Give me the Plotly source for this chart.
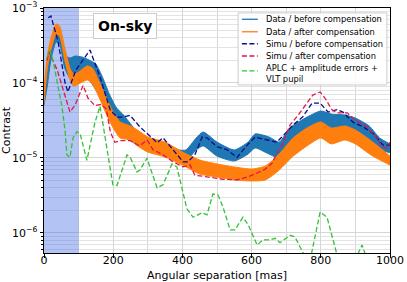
import plotly.graph_objects as go

# ---- data (angular separation in mas, contrast) ----
sep_before = [0, 10, 20, 35, 45, 60, 75, 90, 110, 130, 150, 170, 190, 210, 230, 260, 280, 300, 350, 390,
              410, 440, 460, 500, 550, 590, 610, 650, 680, 710, 750, 800, 830, 870, 900, 940, 970, 1000]
before_upper = [6.92e-5, 1.74e-4, 3.21e-4, 4.79e-4, 4.50e-4, 2.36e-4, 2.15e-4, 2.29e-4, 2.22e-4, 2.03e-4,
                1.79e-4, 1.17e-4, 6.92e-5, 4.64e-5, 3.74e-5, 2.51e-5, 2.09e-5, 1.85e-5, 1.58e-5, 1.28e-5,
                1.28e-5, 1.85e-5, 2.22e-5, 1.63e-5, 1.28e-5, 1.63e-5, 2.09e-5, 1.91e-5, 1.63e-5, 2.51e-5,
                3.31e-5, 4.23e-5, 3.86e-5, 3.74e-5, 3.41e-5, 2.67e-5, 1.85e-5, 1.54e-5]
before_lower = [5.09e-5, 9.40e-5, 2.03e-4, 3.52e-4, 3.31e-4, 1.58e-4, 1.17e-4, 1.17e-4, 1.17e-4, 1.10e-4,
                8.06e-5, 5.93e-5, 4.11e-5, 2.75e-5, 2.03e-5, 1.58e-5, 1.40e-5, 1.28e-5, 1.10e-5, 9.40e-6,
                9.12e-6, 1.28e-5, 1.45e-5, 1.06e-5, 9.12e-6, 1.13e-5, 1.36e-5, 1.13e-5, 1.00e-5, 1.36e-5,
                1.97e-5, 2.84e-5, 2.51e-5, 2.59e-5, 2.36e-5, 1.79e-5, 1.32e-5, 1.17e-5]

sep_after = [0, 10, 20, 35, 45, 60, 75, 85, 100, 125, 140, 160, 180, 200, 220, 250, 270, 300, 350, 400,
             450, 500, 550, 600, 640, 680, 720, 760, 800, 830, 870, 900, 950, 1000]
after_upper = [8.58e-5, 2.36e-4, 3.98e-4, 6.12e-4, 5.75e-4, 2.93e-4, 1.58e-4, 1.32e-4, 1.40e-4, 1.69e-4,
               1.58e-4, 1.03e-4, 6.31e-5, 4.11e-5, 3.02e-5, 2.67e-5, 2.36e-5, 1.91e-5, 1.63e-5, 1.20e-5,
               9.40e-6, 8.32e-6, 7.59e-6, 7.13e-6, 7.82e-6, 1.13e-5, 1.85e-5, 2.51e-5, 3.02e-5, 2.51e-5,
               2.67e-5, 2.36e-5, 1.63e-5, 1.06e-5]
after_lower = [5.41e-5, 1.58e-4, 2.75e-4, 4.50e-4, 4.23e-4, 2.03e-4, 1.10e-4, 9.12e-5, 9.70e-5, 1.10e-4,
               9.70e-5, 6.31e-5, 3.86e-5, 2.51e-5, 1.85e-5, 1.74e-5, 1.45e-5, 1.20e-5, 1.03e-5, 8.06e-6,
               6.12e-6, 5.58e-6, 5.09e-6, 4.94e-6, 5.09e-6, 6.92e-6, 1.06e-5, 1.45e-5, 1.85e-5, 1.54e-5,
               1.74e-5, 1.54e-5, 1.06e-5, 8.06e-6]

sep_simu_before = [12, 20, 40, 61, 69, 92, 133, 162, 191, 211, 228, 249, 277, 298, 327, 344, 373, 402, 416, 436,
                   457, 471, 500, 529, 558, 587, 610, 647, 673, 702, 720, 748, 775, 798, 821, 847, 864, 893,
                   922, 951, 980, 1000]
simu_before = [7.4e-4, 7.8e-4, 3.7e-4, 1.0e-4, 7.6e-5, 1.48e-4, 2.75e-4, 1.2e-4, 4.4e-5, 3.5e-5,
               3.5e-5, 3.7e-5, 2.6e-5, 2.1e-5, 1.6e-5, 1.86e-5, 1.29e-5, 8.9e-6, 8.9e-6, 1.1e-5,
               1.9e-5, 1.86e-5, 1.41e-5, 1.29e-5, 1.02e-5, 1.48e-5, 1.9e-5, 1.74e-5, 1.62e-5, 2.24e-5,
               2.75e-5, 3.55e-5, 5.4e-5, 5.4e-5, 4.1e-5, 4.4e-5, 4.1e-5, 3.0e-5, 2.6e-5, 2.14e-5,
               1.48e-5, 1.48e-5]

sep_simu_after = [9, 14, 38, 61, 75, 90, 113, 127, 147, 165, 180, 192, 205, 220, 249, 277, 298, 315, 344, 373,
                  402, 422, 436, 471, 518, 558, 590, 616, 639, 659, 673, 688, 711, 731, 760, 777, 798, 812,
                  832, 847, 876, 899, 933, 957, 977, 991, 1000]
simu_after = [2.0e-4, 2.6e-4, 1.5e-4, 6.5e-5, 4.1e-5, 5.1e-5, 9.3e-5, 6.3e-5, 5.0e-5, 5.2e-5,
              4.5e-5, 2.2e-5, 1.62e-5, 1.7e-5, 1.7e-5, 1.45e-5, 1.74e-5, 1.29e-5, 1.1e-5, 8.9e-6,
              7.6e-6, 8.1e-6, 5.9e-6, 5.6e-6, 5.2e-6, 5.1e-6, 5.6e-6, 6.3e-6, 7.1e-6, 8.5e-6,
              1.17e-5, 1.48e-5, 2.75e-5, 3.55e-5, 5.4e-5, 6.9e-5, 7.6e-5, 6.3e-5, 4.4e-5, 4.0e-5,
              4.0e-5, 3.2e-5, 2.6e-5, 2.0e-5, 1.41e-5, 1.35e-5, 1.62e-5]

sep_aplc = [9, 17, 26, 40, 52, 61, 66, 75, 84, 95, 104, 124, 147, 162, 182, 199, 211, 240, 249, 269,
            277, 298, 306, 327, 344, 370, 384, 413, 431, 457, 471, 488, 503, 517, 538, 552, 575, 590,
            616, 633, 653, 668, 682, 711, 725, 749, 765, 798, 818, 841, 865, 905, 919, 930, 950]
aplc = [2.2e-4, 2.75e-4, 2.0e-4, 8.9e-5, 4.8e-5, 2.3e-5, 1.1e-5, 1.02e-5, 1.86e-5, 2.24e-5,
        2.14e-5, 9.3e-6, 2.95e-5, 4.9e-5, 1.29e-5, 4.4e-6, 4.3e-6, 1.1e-5, 1.02e-5, 6.5e-6,
        6.9e-6, 1.0e-5, 7.6e-6, 4.0e-6, 4.4e-6, 8.3e-6, 7.6e-6, 2.1e-6, 1.62e-6, 1.86e-6,
        1.74e-6, 3.3e-6, 3.2e-6, 2.24e-6, 1.1e-6, 1.1e-6, 1.62e-6, 1.29e-6, 6.9e-7, 8.1e-7,
        8.1e-7, 8.5e-7, 7.4e-7, 9.3e-7, 8.9e-7, 5.4e-7, 3.5e-7, 1.9e-6, 1.62e-6, 5.9e-7,
        2.5e-7, 5.0e-7, 6.9e-7, 5.0e-7, 2.5e-7]

shaded_range = [0, 100]
legend_labels = ["Data / before compensation", "Data / after compensation",
                 "Simu / before compensation", "Simu / after compensation",
                 "APLC + amplitude errors +<br>VLT pupil"]
x_ticks = [0, 200, 400, 600, 800, 1000]
y_ticks = [1e-6, 1e-5, 1e-4, 1e-3]
y_tick_text = ["10<sup>−6</sup>", "10<sup>−5</sup>", "10<sup>−4</sup>", "10<sup>−3</sup>"]
y_range_log = [-6.267, -3]

# ---- styles ----
C_BEFORE = "#1f77b4"
C_AFTER = "#ff7f0e"
C_SIMU_B = "#0c0c8a"
C_SIMU_A = "#e0174a"
C_APLC = "#33c233"
FONT = "DejaVu Sans"

fig = go.Figure()

# shaded region (semi-transparent, over the grid, under the data)
y_lo, y_hi = 10 ** y_range_log[0], 10 ** y_range_log[1]
fig.add_trace(go.Scatter(x=[shaded_range[0], shaded_range[1], shaded_range[1], shaded_range[0]],
                         y=[y_lo, y_lo, y_hi, y_hi], mode="lines", fill="toself",
                         fillcolor="rgba(65,105,225,0.4)", line=dict(width=0), showlegend=False, hoverinfo="skip"))

def band(x, up, lo, color):
    fig.add_trace(go.Scatter(x=x, y=up, mode="lines", line=dict(color=color, width=1, shape="spline", smoothing=0.6),
                             showlegend=False, hoverinfo="skip"))
    fig.add_trace(go.Scatter(x=x, y=lo, mode="lines", line=dict(color=color, width=1, shape="spline", smoothing=0.6),
                             fill="tonexty", fillcolor=color, opacity=0.92, showlegend=False, hoverinfo="skip"))

band(sep_before, before_upper, before_lower, C_BEFORE)
band(sep_after, after_upper, after_lower, C_AFTER)

dash = "5px,2.5px"
fig.add_trace(go.Scatter(x=sep_simu_before, y=simu_before, mode="lines",
                         line=dict(color=C_SIMU_B, width=1.3, dash=dash), showlegend=False))
fig.add_trace(go.Scatter(x=sep_simu_after, y=simu_after, mode="lines",
                         line=dict(color=C_SIMU_A, width=1.3, dash=dash), showlegend=False))
fig.add_trace(go.Scatter(x=sep_aplc, y=aplc, mode="lines",
                         line=dict(color=C_APLC, width=1.3, dash=dash), showlegend=False))

shapes = []
# manual legend (compact legend box)
lx0, lx1, ly0, ly1 = 0.561, 0.991, 0.686, 0.980
shapes.append(dict(type="rect", xref="paper", yref="paper", x0=lx0, x1=lx1, y0=ly0, y1=ly1,
                   fillcolor="rgba(255,255,255,0.85)", line=dict(color="#cccccc", width=1), layer="above"))
legend_colors = [C_BEFORE, C_AFTER, C_SIMU_B, C_SIMU_A, C_APLC]
legend_dash = ["solid", "solid", dash, dash, dash]
row_y = [0.954, 0.903, 0.854, 0.804, 0.743]
text_y = [0.954, 0.903, 0.854, 0.804, 0.733]
annotations = []
for lab, col, ds, yl, yt in zip(legend_labels, legend_colors, legend_dash, row_y, text_y):
    shapes.append(dict(type="line", xref="paper", yref="paper", x0=0.572, x1=0.618, y0=yl, y1=yl,
                       line=dict(color=col, width=1.3, dash=ds), layer="above"))
    annotations.append(dict(xref="paper", yref="paper", x=0.637, y=yt, text=lab, showarrow=False,
                            xanchor="left", yanchor="middle", align="left",
                            font=dict(family=FONT, size=8.3, color="black")))

annotations.append(dict(xref="paper", yref="paper", x=0.234, y=0.927, text="<b>On-sky</b>", showarrow=False,
                        xanchor="center", yanchor="middle", font=dict(family=FONT, size=14, color="black"),
                        bgcolor="white", bordercolor="#cccccc", borderwidth=1, borderpad=4))

# x-axis title placed precisely below the tick labels
annotations.append(dict(xref="paper", yref="paper", x=0.5, y=-0.0925, text="Angular separation [mas]",
                        showarrow=False, xanchor="center", yanchor="middle",
                        font=dict(family=FONT, size=11, color="black")))

grid = "#d6d6d6"
minor_y = [m * 10.0 ** e for e in range(-7, -2) for m in range(2, 10)]

fig.update_layout(
    width=407, height=282,
    margin=dict(l=44, r=17, t=8, b=29),
    paper_bgcolor="white", plot_bgcolor="white",
    showlegend=False,
    font=dict(family=FONT, size=11, color="black"),
    shapes=shapes, annotations=annotations,
    xaxis=dict(range=[0, 1000], tickvals=x_ticks, ticks="outside", ticklen=3.5, tickcolor="black",
               showgrid=True, gridcolor=grid, gridwidth=0.8, automargin=False,
               minor=dict(dtick=100, tick0=0, showgrid=True, gridcolor=grid, gridwidth=0.8, ticks=""),
               showline=True, linecolor="black", linewidth=1, mirror=True, zeroline=False,
               tickfont=dict(size=11)),
    yaxis=dict(type="log", range=y_range_log, tickvals=y_ticks, ticktext=y_tick_text,
               ticks="outside", ticklen=3.5, tickcolor="black", automargin=False,
               showgrid=True, gridcolor=grid, gridwidth=0.8,
               minor=dict(tickmode="array", tickvals=minor_y, showgrid=True, gridcolor="#e3e3e3", gridwidth=0.8,
                          ticks="outside", ticklen=2, tickcolor="black"),
               showline=True, linecolor="black", linewidth=1, mirror=True, zeroline=False,
               tickfont=dict(size=11),
               title=dict(text="Contrast", font=dict(size=11), standoff=3)),
)
try:
    fig.update_xaxes(ticklabelstandoff=-7)
except Exception:
    pass

fig.write_html("out.html", config={"displayModeBar": False},
               post_script="document.body.style.margin='0px';")
